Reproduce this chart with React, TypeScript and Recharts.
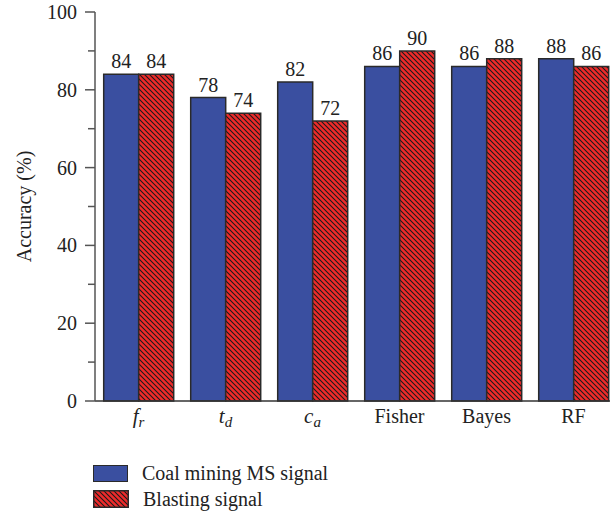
import React from "react";
import { BarChart, Bar, XAxis, YAxis, LabelList } from "recharts";

const categories = ["fr", "td", "ca", "Fisher", "Bayes", "RF"];
const coalMining = [84, 78, 82, 86, 86, 88];
const blasting = [84, 74, 72, 90, 88, 86];
const yTicks = [0, 10, 20, 30, 40, 50, 60, 70, 80, 90, 100];

const data = categories.map((name, i) => ({
  name,
  coal: coalMining[i],
  blast: blasting[i],
}));

const FONT = "'Liberation Serif', 'DejaVu Serif', serif";
const BLUE = "#3a4fa0";
const RED = "#ee2a2a";
const EDGE = "#2a2a2a";

// subscripted italic labels for the first three categories
const italicLabels: Record<string, [string, string]> = {
  fr: ["f", "r"],
  td: ["t", "d"],
  ca: ["c", "a"],
};

const XTick = (props: any) => {
  const { x, y, payload } = props;
  const it = italicLabels[payload.value];
  if (it) {
    return (
      <text x={x} y={y + 22} textAnchor="middle" fontFamily={FONT} fontSize={21} fill="#222">
        <tspan fontStyle="italic">{it[0]}</tspan>
        <tspan fontStyle="italic" fontSize={15} dy={4}>
          {it[1]}
        </tspan>
      </text>
    );
  }
  return (
    <text x={x} y={y + 22} textAnchor="middle" fontFamily={FONT} fontSize={20} fill="#222">
      {payload.value}
    </text>
  );
};

const YTick = (props: any) => {
  const { x, y, payload } = props;
  const major = payload.value % 20 === 0;
  return (
    <g>
      <line x1={x - (major ? 10 : 7)} x2={x} y1={y} y2={y} stroke="#555" strokeWidth={1.5} />
      {major && (
        <text x={x - 18} y={y} dy="0.35em" textAnchor="end" fontFamily={FONT} fontSize={20} fill="#222">
          {payload.value}
        </text>
      )}
    </g>
  );
};

const labelStyle = { fontFamily: FONT, fontSize: 20, fill: "#222" };

export default function App() {
  return (
    <div style={{ position: "absolute", left: 0, top: 0, width: 610, height: 515, overflow: "hidden" }}>
      <BarChart
        width={628}
        height={441}
        data={data}
        margin={{ top: 12, right: 11, bottom: 0, left: 8 }}
        barCategoryGap="10%"
        barGap={0}
        style={{ overflow: "visible" }}
      >
        <defs>
          <pattern id="hatch" patternUnits="userSpaceOnUse" width={5} height={5}>
            <rect width={5} height={5} fill={RED} />
            <path d="M0,0 L5,5 M-1,4 L1,6 M4,-1 L6,1" stroke="#1a1a1a" strokeWidth={1.1} />
          </pattern>
        </defs>
        <XAxis
          xAxisId="top"
          orientation="top"
          dataKey="name"
          height={0}
          tick={false}
          tickLine={false}
          axisLine={{ stroke: "#555", strokeWidth: 1.5 }}
        />
        <XAxis
          dataKey="name"
          height={40}
          tick={<XTick />}
          tickLine={false}
          tickSize={0}
          tickMargin={0}
          axisLine={{ stroke: "#333", strokeWidth: 1.5 }}
          interval={0}
        />
        <YAxis
          width={87}
          domain={[0, 100]}
          ticks={yTicks}
          interval={0}
          tick={<YTick />}
          tickLine={false}
          tickSize={0}
          tickMargin={0}
          axisLine={{ stroke: "#555", strokeWidth: 1.5 }}
          label={{
            content: (p: any) => {
              const vb = p.viewBox;
              const cx = 31;
              const cy = vb.y + vb.height / 2;
              return (
                <text
                  x={cx}
                  y={cy}
                  transform={`rotate(-90 ${cx} ${cy})`}
                  textAnchor="middle"
                  fontFamily={FONT}
                  fontSize={20}
                  fill="#222"
                >
                  Accuracy (%)
                </text>
              );
            },
          }}
        />
        <Bar dataKey="coal" fill={BLUE} stroke={EDGE} strokeWidth={1.5} isAnimationActive={false}>
          <LabelList dataKey="coal" position="top" offset={6} style={labelStyle} />
        </Bar>
        <Bar dataKey="blast" fill="url(#hatch)" stroke={EDGE} strokeWidth={1.5} isAnimationActive={false}>
          <LabelList dataKey="blast" position="top" offset={6} style={labelStyle} />
        </Bar>
      </BarChart>
      <div style={{ position: "absolute", left: 93, top: 460, fontFamily: FONT, fontSize: 20, color: "#222" }}>
        <div style={{ display: "flex", alignItems: "center", height: 26 }}>
          <div style={{ width: 33, height: 15, background: BLUE, border: `1.5px solid ${EDGE}`, marginRight: 14 }} />
          <span>Coal mining MS signal</span>
        </div>
        <div style={{ display: "flex", alignItems: "center", height: 26 }}>
          <svg width={36} height={18} style={{ marginRight: 14 }}>
            <rect x={0.75} y={0.75} width={34.5} height={16.5} fill="url(#hatch)" stroke={EDGE} strokeWidth={1.5} />
          </svg>
          <span>Blasting signal</span>
        </div>
      </div>
    </div>
  );
}
